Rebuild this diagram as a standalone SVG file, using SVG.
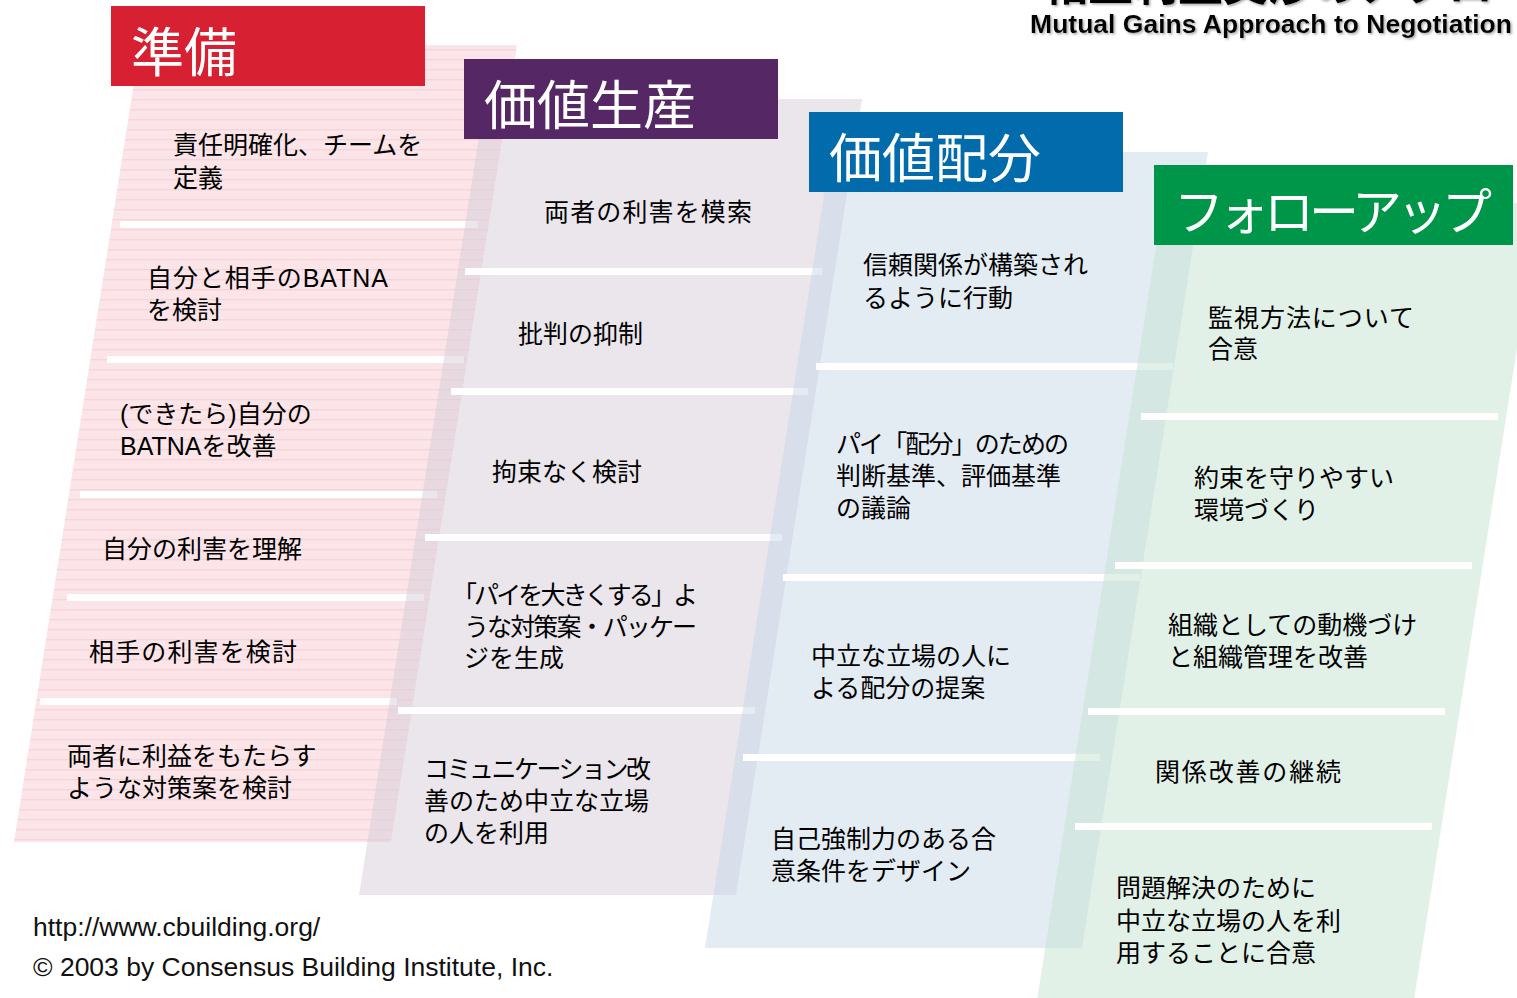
<svg xmlns="http://www.w3.org/2000/svg" width="1517" height="998" viewBox="0 0 1517 998">
<defs>
<style>
.t{font-family:"Liberation Sans","Noto Sans CJK JP",sans-serif;font-size:25px;fill:#000}
.h{font-family:"Noto Sans CJK JP",sans-serif;font-size:53px;fill:#fff}
.f{font-family:"Liberation Sans",Arial,sans-serif;font-size:26.5px;fill:#111}
.bar{fill:#fff}
</style>
<pattern id="stripes" x="0" y="9.3" width="20" height="10" patternUnits="userSpaceOnUse">
<rect width="20" height="10" fill="#FBE5E8"/>
<rect y="0" width="20" height="1" fill="#F4CDD4"/>
</pattern>
<filter id="sh" x="-5%" y="-20%" width="110%" height="150%">
<feDropShadow dx="1.5" dy="1.5" stdDeviation="0.8" flood-color="#888" flood-opacity="0.7"/>
</filter>
</defs>
<rect width="1517" height="998" fill="#fff"/>

<g id="title" filter="url(#sh)">
<text x="1043" y="0.5" style="font-family:'Noto Sans CJK JP',sans-serif;font-size:45px;font-weight:bold;fill:#000">相互利益交渉のアプローチ</text>
<text x="1512" y="33" text-anchor="end" style="font-family:'Liberation Sans',Arial,sans-serif;font-size:26.5px;font-weight:bold;fill:#000">Mutual Gains Approach to Negotiation</text>
</g>

<!-- Column 1: 準備 -->
<g id="col-prep">
<polygon points="140,45 517,45 391,842 14,842" fill="url(#stripes)"/>
<g id="prep-separators">
<rect class="bar" x="120" y="221" width="358" height="7"/>
<rect class="bar" x="107" y="356" width="357" height="7"/>
<rect class="bar" x="80" y="491" width="357" height="7"/>
<rect class="bar" x="67" y="594" width="357" height="7"/>
<rect class="bar" x="40" y="698" width="357" height="7"/>
</g>
<g id="prep-header"><rect x="111" y="6" width="314" height="80" fill="#D72132"/><text class="h" x="131" y="72">準備</text></g>
<g id="prep-1"><text class="t" x="173" y="153.5">責任明確化、チームを<tspan x="173" dy="33">定義</tspan></text></g>
<g id="prep-2"><text class="t" x="147" y="286.5"><tspan textLength="241" lengthAdjust="spacing">自分と相手のBATNA</tspan><tspan x="147" dy="32">を検討</tspan></text></g>
<g id="prep-3"><text class="t" x="120" y="422.5">(できたら)自分の<tspan x="120" dy="32">BATNAを改善</tspan></text></g>
<g id="prep-4"><text class="t" x="102" y="557.5">自分の利害を理解</text></g>
<g id="prep-5"><text class="t" x="89" y="660.5" textLength="208" lengthAdjust="spacing">相手の利害を検討</text></g>
<g id="prep-6"><text class="t" x="67" y="765">両者に利益をもたらす<tspan x="67" dy="32">ような対策案を検討</tspan></text></g>
</g>

<!-- Column 2: 価値生産 -->
<g id="col-create">
<polygon points="485,99 862,99 736,895 359,895" fill="#D5CDD9" fill-opacity="0.5"/>
<g id="create-separators">
<rect class="bar" x="465" y="268" width="357" height="7"/>
<rect class="bar" x="451" y="388" width="357" height="7"/>
<rect class="bar" x="425" y="534" width="357" height="7"/>
<rect class="bar" x="398" y="707" width="357" height="7"/>
</g>
<g id="create-header"><rect x="464" y="59" width="314" height="80" fill="#552865"/><text class="h" x="484" y="125">価値生産</text></g>
<g id="create-1"><text class="t" x="544" y="220.5" textLength="208" lengthAdjust="spacing">両者の利害を模索</text></g>
<g id="create-2"><text class="t" x="518" y="342.5">批判の抑制</text></g>
<g id="create-3"><text class="t" x="492" y="481">拘束なく検討</text></g>
<g id="create-4"><text class="t" x="452" y="604"><tspan textLength="246" lengthAdjust="spacing">「パイを大きくする」よ</tspan><tspan x="464" dy="31.5" textLength="233" lengthAdjust="spacing">うな対策案・パッケー</tspan><tspan x="464" dy="31.5">ジを生成</tspan></text></g>
<g id="create-5"><text class="t" x="424" y="777.5"><tspan textLength="227" lengthAdjust="spacing">コミュニケーション改</tspan><tspan x="424" dy="32">善のため中立な立場</tspan><tspan x="424" dy="32">の人を利用</tspan></text></g>
</g>

<!-- Column 3: 価値配分 -->
<g id="col-claim">
<polygon points="831,152 1208,152 1082,948 705,948" fill="#C7D7E7" fill-opacity="0.5"/>
<g id="claim-separators">
<rect class="bar" x="816" y="363" width="357" height="7"/>
<rect class="bar" x="783" y="574" width="357" height="7"/>
<rect class="bar" x="743" y="754" width="357" height="7"/>
</g>
<g id="claim-header"><rect x="809" y="112" width="314" height="80" fill="#026BAB"/><text class="h" x="829" y="178">価値配分</text></g>
<g id="claim-1"><text class="t" x="863" y="274">信頼関係が構築され<tspan x="863" dy="32.5">るように行動</tspan></text></g>
<g id="claim-2"><text class="t" x="836" y="452.5"><tspan textLength="233" lengthAdjust="spacing">パイ「配分」のための</tspan><tspan x="836" dy="32">判断基準、評価基準</tspan><tspan x="836" dy="32">の議論</tspan></text></g>
<g id="claim-3"><text class="t" x="811" y="664.5">中立な立場の人に<tspan x="811" dy="32">よる配分の提案</tspan></text></g>
<g id="claim-4"><text class="t" x="771" y="847.5">自己強制力のある合<tspan x="771" dy="32.5">意条件をデザイン</tspan></text></g>
</g>

<!-- Column 4: フォローアップ -->
<g id="col-follow">
<polygon points="1163,203 1540,203 1414,1000 1037,1000" fill="#C5E3D1" fill-opacity="0.5"/>
<g id="follow-separators">
<rect class="bar" x="1141" y="413" width="357" height="7"/>
<rect class="bar" x="1115" y="562" width="357" height="7"/>
<rect class="bar" x="1088" y="708" width="357" height="7"/>
<rect class="bar" x="1075" y="823" width="357" height="7"/>
</g>
<g id="follow-header"><rect x="1154" y="165" width="359" height="80" fill="#00964A"/><text class="h" x="1174" y="230" style="font-size:50px" textLength="318" lengthAdjust="spacing">フォローアップ</text></g>
<g id="follow-1"><text class="t" x="1208" y="326.5"><tspan textLength="206" lengthAdjust="spacing">監視方法について</tspan><tspan x="1208" dy="31">合意</tspan></text></g>
<g id="follow-2"><text class="t" x="1194" y="486.5">約束を守りやすい<tspan x="1194" dy="32">環境づくり</tspan></text></g>
<g id="follow-3"><text class="t" x="1168" y="633.5">組織としての動機づけ<tspan x="1168" dy="32">と組織管理を改善</tspan></text></g>
<g id="follow-4"><text class="t" x="1155" y="780.5" textLength="186" lengthAdjust="spacing">関係改善の継続</text></g>
<g id="follow-5"><text class="t" x="1116" y="897">問題解決のために<tspan x="1116" dy="32.5">中立な立場の人を利</tspan><tspan x="1116" dy="32.5">用することに合意</tspan></text></g>
</g>

<g id="connectors"></g>

<g id="footer">
<text class="f" x="33" y="936">http://www.cbuilding.org/</text>
<text class="f" x="33" y="976">© 2003 by Consensus Building Institute, Inc.</text>
</g>
</svg>
